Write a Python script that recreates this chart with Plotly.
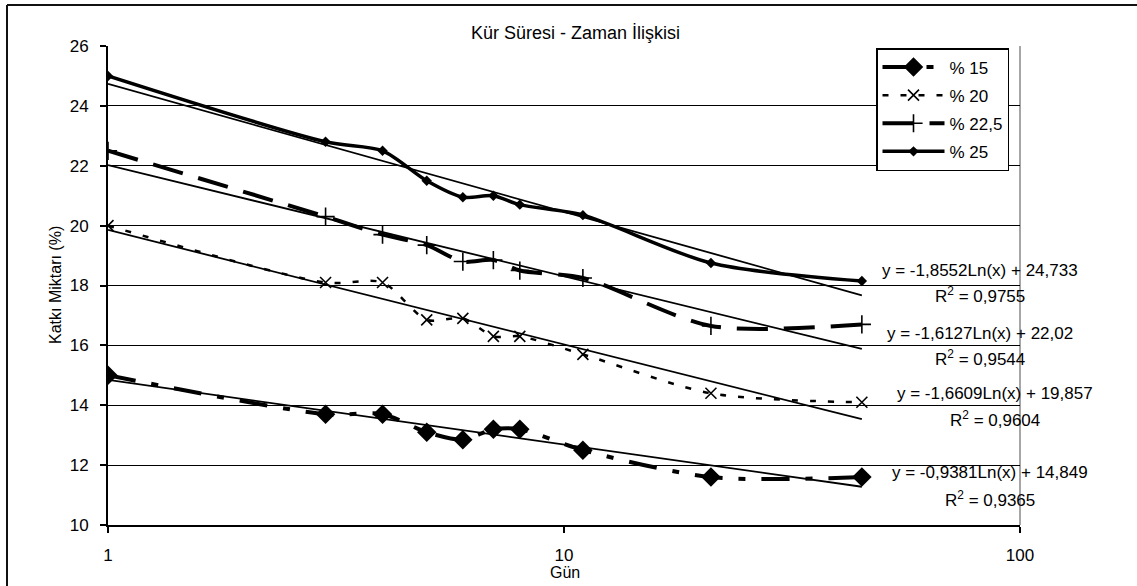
import numpy as np
import plotly.graph_objects as go

# ---------------- data ----------------
days = [1, 3, 4, 5, 6, 7, 8, 11, 21, 45]
p15 = [15.0, 13.7, 13.7, 13.1, 12.85, 13.2, 13.2, 12.5, 11.6, 11.6]
p20 = [20.0, 18.1, 18.1, 16.85, 16.9, 16.3, 16.3, 15.7, 14.4, 14.1]
p225 = [22.5, 20.3, 19.7, 19.35, 18.8, 18.85, 18.5, 18.25, 16.65, 16.7]
p25 = [25.0, 22.8, 22.5, 21.5, 20.95, 21.0, 20.7, 20.35, 18.75, 18.15]

series_names = ["% 15", "% 20", "% 22,5", "% 25"]

# logarithmic trendlines  y = a*ln(x) + b
trend_a = [-0.9381, -1.6609, -1.6127, -1.8552]
trend_b = [14.849, 19.857, 22.02, 24.733]
eq_labels = ["y = -0,9381Ln(x) + 14,849", "y = -1,6609Ln(x) + 19,857",
             "y = -1,6127Ln(x) + 22,02", "y = -1,8552Ln(x) + 24,733"]
r2_labels = ["R<sup>2</sup> = 0,9365", "R<sup>2</sup> = 0,9604",
             "R<sup>2</sup> = 0,9544", "R<sup>2</sup> = 0,9755"]

title_text = "Kür Süresi - Zaman İlişkisi"
x_title = "Gün"
y_title = "Katkı Miktarı (%)"
x_ticks = [1, 10, 100]
y_range = [10, 26]

# ---------------- layout geometry ----------------
W, H = 1137, 586
L, R, T, B = 108, 1020, 46, 525   # plot area in pixels
FONT = "Arial, Liberation Sans, sans-serif"


def px(xp):
    return (xp - L) / (R - L)


def py(yp):
    return (B - yp) / (B - T)


fig = go.Figure()

# trendlines (thin solid)
xt = np.geomspace(days[0], days[-1], 80)
for a, b in zip(trend_a, trend_b):
    fig.add_trace(go.Scatter(x=xt, y=a * np.log(xt) + b, mode="lines",
                             line=dict(color="black", width=1.8),
                             showlegend=False, hoverinfo="skip"))

styles = [
    dict(line=dict(color="black", width=4, dash="28px,16px,7px,16px", shape="spline", smoothing=0.8),
         marker=dict(symbol="diamond", size=15, color="black")),
    dict(line=dict(color="black", width=2.5, dash="6px,12px", shape="spline", smoothing=0.8),
         marker=dict(symbol="x-thin", size=11, color="black", line=dict(color="black", width=1.6))),
    dict(line=dict(color="black", width=4, dash="31px,16px", shape="spline", smoothing=0.8),
         marker=dict(symbol="cross-thin", size=13, color="black", line=dict(color="black", width=1.6))),
    dict(line=dict(color="black", width=3.5, shape="spline", smoothing=0.8),
         marker=dict(symbol="diamond", size=8, color="black")),
]
for i, (name, vals) in enumerate(zip(series_names, [p15, p20, p225, p25])):
    fig.add_trace(go.Scatter(x=days, y=vals, mode="lines+markers", name=name,
                             legendgroup=name, **styles[i]))

# equation labels (centre x, line-1 y, line-2 y in pixels)
eq_pos = [(990, 472.7, 499.3), (995, 393.3, 419.3), (980, 333.3, 358.3), (980, 270, 295)]
for (cx, y1, y2), eq, r2 in zip(eq_pos, eq_labels, r2_labels):
    fig.add_annotation(x=px(cx), y=py(y1), xref="paper", yref="paper", text=eq,
                       showarrow=False, xanchor="center", yanchor="middle",
                       font=dict(family=FONT, size=17, color="black"))
    fig.add_annotation(x=px(cx), y=py(y2), xref="paper", yref="paper", text=r2,
                       showarrow=False, xanchor="center", yanchor="middle",
                       font=dict(family=FONT, size=17, color="black"))

# titles
fig.add_annotation(x=px(575), y=py(33), xref="paper", yref="paper", text=title_text,
                   showarrow=False, xanchor="center", yanchor="middle",
                   font=dict(family=FONT, size=18, color="black"))
fig.add_annotation(x=px(565), y=py(572), xref="paper", yref="paper", text=x_title,
                   showarrow=False, xanchor="center", yanchor="middle",
                   font=dict(family=FONT, size=16, color="black"))
fig.add_annotation(x=px(55), y=py(285), xref="paper", yref="paper", text=y_title,
                   showarrow=False, xanchor="center", yanchor="middle", textangle=-90,
                   font=dict(family=FONT, size=16, color="black"))

# outer chart border (top and left)
fig.add_shape(type="line", xref="paper", yref="paper", x0=px(7), x1=px(W + 10), y0=py(5), y1=py(5),
              line=dict(color="#111", width=2))
fig.add_shape(type="line", xref="paper", yref="paper", x0=px(7), x1=px(7), y0=py(5), y1=py(H + 10),
              line=dict(color="#111", width=2))
# plot-area right border (gray)
fig.add_shape(type="line", xref="paper", yref="paper", x0=1, x1=1, y0=0, y1=1,
              line=dict(color="#888", width=1.5), layer="below")

fig.update_layout(
    width=W, height=H, autosize=False,
    margin=dict(l=L, r=W - R, t=T, b=H - B, pad=0),
    paper_bgcolor="white", plot_bgcolor="white",
    font=dict(family=FONT, size=17, color="black"),
    showlegend=True,
    legend=dict(x=px(876), y=py(48), xanchor="left", yanchor="top",
                bordercolor="black", borderwidth=1.5, bgcolor="white",
                font=dict(family=FONT, size=17, color="black"),
                itemwidth=62, tracegroupgap=3, traceorder="grouped"),
    xaxis=dict(type="log", range=[0, 2], tickvals=x_ticks, ticktext=[str(v) for v in x_ticks],
               showgrid=False, zeroline=False, showline=True, linecolor="black", linewidth=2,
               ticks="outside", ticklen=6, tickwidth=1.5, tickcolor="black",
               ticklabelstandoff=8),
    yaxis=dict(range=y_range, dtick=2, showgrid=True, gridcolor="black", gridwidth=1.2,
               zeroline=False, showline=True, linecolor="black", linewidth=2,
               ticks="outside", ticklen=6, tickwidth=1.5, tickcolor="black",
               ticklabelstandoff=8),
)

fig.write_html("out.html")
